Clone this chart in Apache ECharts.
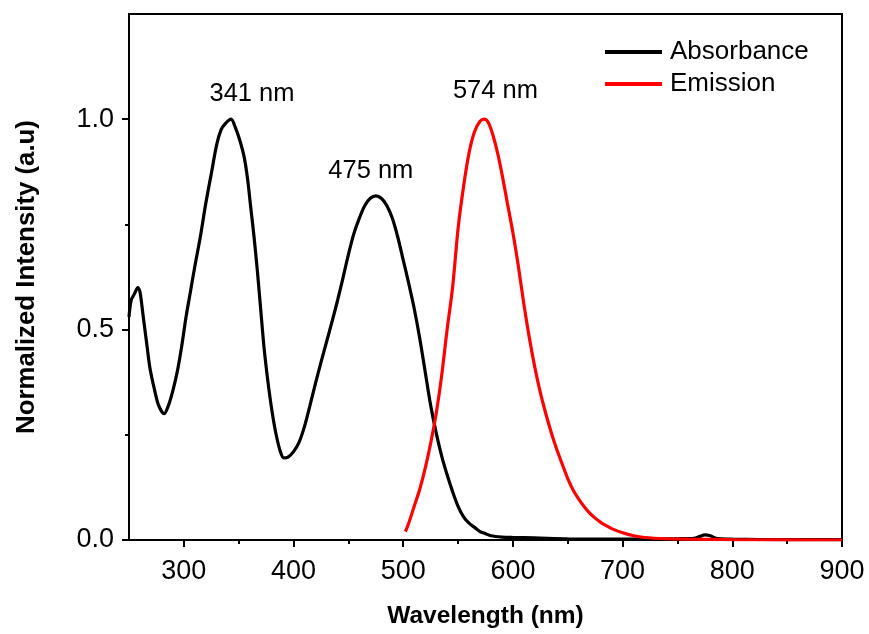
<!DOCTYPE html>
<html>
<head>
<meta charset="utf-8">
<script src="https://cdn.jsdelivr.net/npm/echarts@6/dist/echarts.min.js"></script>
<style>html,body{margin:0;padding:0;background:#fff;}#c{width:869px;height:634px;}</style>
</head>
<body>
<div id="c"></div>
<script>
// ---- data ----
const absWavelength = [250,252,255,258,260,263,266,269,273,277,282,286,290,294,298,302,306,310,315,320,325,330,334,338,343,347,351,355,358,361,364,367,370,373,376,379,382,385,388,391,395,400,405,410,415,420,425,430,435,440,445,450,455,460,465,470,475,480,485,490,495,500,505,510,515,520,525,530,535,540,545,550,555,560,565,570,575,580,590,600,620,650,700,750,765,770,775,780,785,800,850,900];
const absValue = [0.53,0.57,0.585,0.60,0.59,0.53,0.47,0.41,0.36,0.32,0.30,0.32,0.355,0.40,0.46,0.53,0.59,0.65,0.72,0.80,0.87,0.94,0.975,0.99,1.00,0.98,0.95,0.91,0.86,0.79,0.72,0.64,0.55,0.46,0.39,0.33,0.28,0.24,0.21,0.195,0.197,0.21,0.232,0.27,0.32,0.372,0.422,0.47,0.518,0.568,0.622,0.678,0.728,0.765,0.795,0.812,0.818,0.812,0.795,0.765,0.72,0.665,0.61,0.55,0.48,0.40,0.32,0.255,0.20,0.155,0.115,0.08,0.055,0.04,0.03,0.02,0.015,0.01,0.007,0.006,0.005,0.003,0.002,0.003,0.004,0.008,0.012,0.01,0.004,0.002,0.001,0.001];
const emWavelength = [502,505,510,515,520,525,530,535,540,545,550,555,560,565,570,574,578,582,586,590,595,600,605,610,615,620,625,630,635,640,645,650,655,660,665,670,675,680,685,690,700,710,720,740,760,800,900];
const emValue = [0.02,0.04,0.08,0.12,0.17,0.23,0.30,0.39,0.50,0.60,0.74,0.84,0.92,0.97,0.995,1.0,0.99,0.96,0.92,0.87,0.80,0.73,0.65,0.56,0.48,0.41,0.35,0.30,0.255,0.215,0.18,0.146,0.118,0.097,0.079,0.064,0.052,0.042,0.034,0.027,0.017,0.01,0.006,0.003,0.002,0.001,0.0];
const seriesNames = ['Absorbance','Emission'];
const peakLabels = ['341 nm','475 nm','574 nm'];
const peakWavelength = [343,475,574];
const peakValue = [1.0,0.815,1.0];
const xMajorTicks = [300,400,500,600,700,800,900];
const xMinorTicks = [350,450,550,650,750,850];
const yMajorTicks = [0,0.5,1.0];
const yMinorTicks = [0.25,0.75];

// ---- chart ----
const FONT = '"Liberation Sans", Arial, sans-serif';
const labelOffsets = [[21,-25],[-5,-26],[11,-28]];
const pair = (xs, ys) => xs.map((x,i) => [x, ys[i]]);
const chart = echarts.init(document.getElementById('c'), null, {renderer:'canvas'});
const axisLine = {show:true, lineStyle:{color:'#000', width:2}};
const option = {
  animation:false,
  backgroundColor:'#fff',
  grid:{left:129, right:27, top:14, bottom:92, show:true, borderColor:'#000', borderWidth:2, backgroundColor:'transparent'},
  legend:{
    data:seriesNames, orient:'vertical', left:605, top:39, padding:0, itemWidth:57, itemHeight:4, itemGap:6, icon:'rect',
    textStyle:{fontFamily:FONT, fontSize:26, color:'#000', lineHeight:26, padding:[0,0,0,3]}
  },
  xAxis:[
    {type:'value', min:250, max:900, interval:50, position:'bottom',
     axisLine:axisLine, splitLine:{show:false},
     axisTick:{show:true, inside:false, length:7, lineStyle:{color:'#000', width:2}, customValues:xMajorTicks},
     axisLabel:{show:true, customValues:xMajorTicks, fontFamily:FONT, fontSize:27, color:'#000', margin:18},
     name:'Wavelength (nm)', nameLocation:'middle', nameGap:64,
     nameTextStyle:{fontFamily:FONT, fontSize:24.5, fontWeight:'bold', color:'#000'}},
    {type:'value', min:250, max:900, interval:50, position:'bottom',
     axisLine:{show:false}, splitLine:{show:false},
     axisTick:{show:true, inside:false, length:4, lineStyle:{color:'#000', width:2}, customValues:xMinorTicks},
     axisLabel:{show:false}}
  ],
  yAxis:[
    {type:'value', min:0, max:1.25, interval:0.25, position:'left',
     axisLine:axisLine, splitLine:{show:false},
     axisTick:{show:true, inside:false, length:7, lineStyle:{color:'#000', width:2}, customValues:yMajorTicks},
     axisLabel:{show:true, customValues:yMajorTicks, formatter:v=>v.toFixed(1), fontFamily:FONT, fontSize:27, color:'#000', margin:15},
     name:'Normalized Intensity (a.u)', nameLocation:'middle', nameGap:89,
     nameTextStyle:{fontFamily:FONT, fontSize:25.8, fontWeight:'bold', color:'#000'}},
    {type:'value', min:0, max:1.25, interval:0.25, position:'left',
     axisLine:{show:false}, splitLine:{show:false},
     axisTick:{show:true, inside:false, length:4, lineStyle:{color:'#000', width:2}, customValues:yMinorTicks},
     axisLabel:{show:false}}
  ],
  series:[
    {name:seriesNames[0], type:'line', data:pair(absWavelength, absValue), showSymbol:false, smooth:0.3,
     lineStyle:{color:'#000', width:3.2}, itemStyle:{color:'#000'}},
    {name:seriesNames[1], type:'line', data:pair(emWavelength, emValue), showSymbol:false, smooth:0.3,
     lineStyle:{color:'#ff0000', width:3.2}, itemStyle:{color:'#ff0000'}},
    {name:'peaks', type:'scatter', symbolSize:0, silent:true, itemStyle:{opacity:1, color:'#000'},
     data:peakLabels.map((t,i)=>({value:[peakWavelength[i], peakValue[i]], name:t,
       label:{show:true, formatter:t, position:'inside', offset:labelOffsets[i],
              fontFamily:FONT, fontSize:25.5, color:'#000', opacity:1}}))}
  ]
};
chart.setOption(option);
</script>
</body>
</html>
